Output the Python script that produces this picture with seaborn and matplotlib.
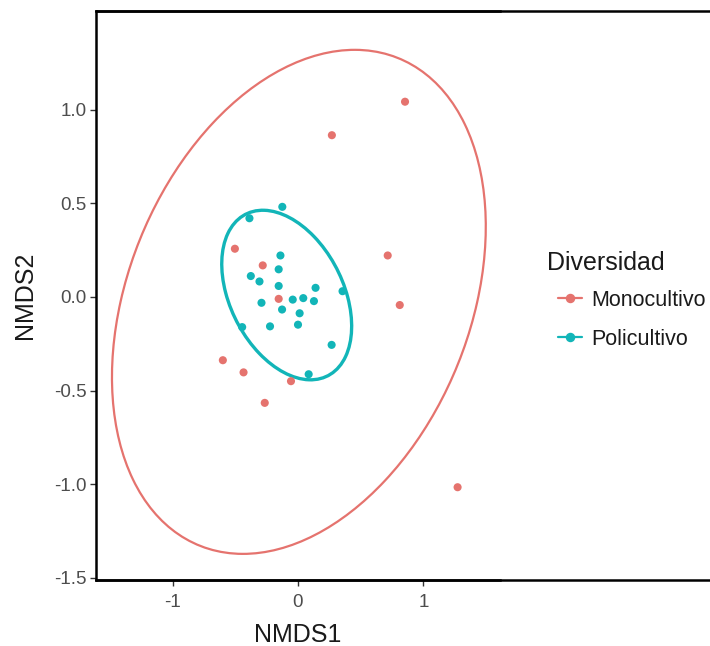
import numpy as np
import pandas as pd
import seaborn as sns
import matplotlib.pyplot as plt
from matplotlib.patches import Ellipse
from matplotlib.lines import Line2D

# ---- data ----
mono_x = [0.853, 0.270, -0.503, -0.281, 0.715, -0.154, 0.811, -0.599, -0.434, -0.056, -0.265, 1.272]
mono_y = [1.044, 0.865, 0.258, 0.169, 0.222, -0.010, -0.043, -0.338, -0.403, -0.450, -0.566, -1.017]
poli_x = [-0.125, -0.387, -0.140, -0.154, -0.376, -0.307, -0.154, 0.140, 0.355, -0.291,
          -0.042, 0.042, 0.127, -0.127, 0.013, 0.000, -0.223, -0.445, 0.268, 0.085]
poli_y = [0.482, 0.421, 0.222, 0.148, 0.112, 0.083, 0.059, 0.049, 0.031, -0.031,
          -0.014, -0.006, -0.022, -0.067, -0.087, -0.148, -0.157, -0.161, -0.256, -0.413]
groups = ["Monocultivo", "Policultivo"]
colors = ["#E5736E", "#12B5B8"]
# ellipse parameters (centre x, centre y, width, height, angle)
mono_ellipse = [0.007, -0.026, 3.256, 2.353, 35.7]
poli_ellipse = [-0.09, 0.0105, 1.146, 0.762, -35.0]
x_ticks = [-1, 0, 1]
y_ticks = [-1.5, -1.0, -0.5, 0.0, 0.5, 1.0]
y_tick_labels = ["-1.5", "-1.0", "-0.5", "0.0", "0.5", "1.0"]

df = pd.DataFrame({
    "NMDS1": mono_x + poli_x,
    "NMDS2": mono_y + poli_y,
    "Diversidad": [groups[0]] * len(mono_x) + [groups[1]] * len(poli_x),
})

sns.set_theme(style="white")
plt.rcParams['font.family'] = ['Liberation Sans', 'DejaVu Sans']

W, H = 710, 646
fig = plt.figure(figsize=(W / 100, H / 100), dpi=100)
ax = fig.add_axes([96 / W, 66 / H, 404 / W, 569 / H])

palette = dict(zip(groups, colors))
sns.scatterplot(data=df, x="NMDS1", y="NMDS2", hue="Diversidad", palette=palette,
                s=34, linewidth=0, ax=ax, legend=False, zorder=3)

for params, col, lw in [(mono_ellipse, colors[0], 1.6), (poli_ellipse, colors[1], 2.4)]:
    e = Ellipse((params[0], params[1]), params[2], params[3], angle=params[4],
                fill=False, edgecolor=col, linewidth=lw, zorder=2)
    ax.add_patch(e)

ax.set_xlim(-1.61, 1.61)
ax.set_ylim(-1.513, 1.529)
ax.set_xticks(x_ticks)
ax.set_xticklabels([str(t) for t in x_ticks])
ax.set_yticks(y_ticks)
ax.set_yticklabels(y_tick_labels)
ax.tick_params(axis="both", direction="out", length=4, width=1, color="#333333",
               labelcolor="#4D4D4D", labelsize=13.5, left=True, bottom=True)
ax.tick_params(axis="x", pad=6)
ax.tick_params(axis="y", pad=3)
ax.set_xlabel("NMDS1", fontsize=18, color="#1a1a1a")
ax.set_ylabel("NMDS2", fontsize=18, color="#1a1a1a")
ax.xaxis.label.set_va("center")
ax.yaxis.label.set_va("center")
ax.xaxis.set_label_coords(0.5, (646 - 634.5 - 66) / 569)
ax.yaxis.set_label_coords((25 - 96) / 404, 0.5)

for s in ["left", "bottom", "top"]:
    ax.spines[s].set_visible(True)
    ax.spines[s].set_color("black")
    ax.spines[s].set_linewidth(1.8)
ax.spines["right"].set_visible(False)

# top & bottom border lines running to the right edge of the image
for yy in [1 - 11 / H, 66 / H]:
    fig.add_artist(Line2D([96 / W, 1.0], [yy, yy], color="black", linewidth=1.8,
                          transform=fig.transFigure))

# legend
fig.text(547 / W, 1 - 270 / H, "Diversidad", fontsize=18, color="#1a1a1a",
         ha="left", va="baseline")
handles = [Line2D([0], [0], color=c, marker="o", markersize=5.8, linewidth=1.6)
           for c in colors]
leg = fig.legend(handles, groups, loc="upper left",
                 bbox_to_anchor=(558 / W, 1 - 290 / H), frameon=False,
                 fontsize=15.5, handlelength=1.1, handletextpad=0.45,
                 labelspacing=0.82, borderpad=0, borderaxespad=0)
for t in leg.get_texts():
    t.set_color("#1a1a1a")

fig.savefig("out.png", dpi=100)
